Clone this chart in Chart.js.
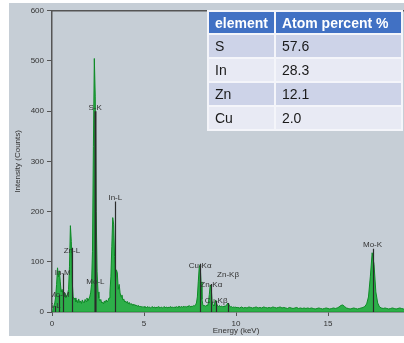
<!DOCTYPE html>
<html>
<head>
<meta charset="utf-8">
<script src="https://cdn.jsdelivr.net/npm/chart.js@4/dist/chart.umd.min.js"></script>
<style>
    html, body { margin: 0; padding: 0; background: #fff; overflow: hidden; width: 404px; height: 343px; }
    #frame { position: absolute; left: 9px; top: 3px; width: 395px; height: 333px; background: #c6ced6; overflow: hidden; }
    #spectrum { position: absolute; left: 0; top: 0; }
    #atoms { position: absolute; left: 207px; top: 10px; width: 196px; border-collapse: collapse; font-family: "Liberation Sans", Arial, sans-serif; font-size: 14px; color: #1a1a1a; }
    #atoms th, #atoms td { border: 2px solid #f4f5fa; padding: 0 6px; text-align: left; }
    #atoms th { background: #4171c4; color: #fff; font-weight: bold; height: 21px; }
    #atoms td { height: 22px; }
    #atoms tr.dark td { background: #cdd3e8; }
    #atoms tr.light td { background: #e8eaf4; }
</style>
</head>
<body>
<div id="frame"><canvas id="spectrum" width="425" height="333"></canvas></div>
<table id="atoms"></table>
<script>
(function() {

    // EDS spectrum, counts
    const energy = [
        0.00, 0.05, 0.10, 0.15, 0.20, 0.25, 0.30, 0.35, 0.40, 0.45, 0.50, 0.55, 0.60, 0.65, 0.70, 0.75, 0.80, 0.85, 0.90, 0.95,
        1.00, 1.05, 1.10, 1.15, 1.20, 1.25, 1.30, 1.35, 1.40, 1.45, 1.50, 1.55, 1.60, 1.65, 1.70, 1.75, 1.80, 1.85, 1.90, 1.95,
        2.00, 2.05, 2.10, 2.15, 2.20, 2.25, 2.30, 2.35, 2.40, 2.45, 2.50, 2.55, 2.60, 2.65, 2.70, 2.75, 2.80, 2.85, 2.90, 2.95,
        3.00, 3.05, 3.10, 3.15, 3.20, 3.25, 3.30, 3.35, 3.40, 3.45, 3.50, 3.55, 3.60, 3.65, 3.70, 3.75, 3.80, 3.85, 3.90, 3.95,
        4.00, 4.05, 4.10, 4.15, 4.20, 4.25, 4.30, 4.35, 4.40, 4.45, 4.50, 4.55, 4.60, 4.65, 4.70, 4.75, 4.80, 4.85, 4.90, 4.95,
        5.00, 5.05, 5.10, 5.15, 5.20, 5.25, 5.30, 5.35, 5.40, 5.45, 5.50, 5.55, 5.60, 5.65, 5.70, 5.75, 5.80, 5.85, 5.90, 5.95,
        6.00, 6.05, 6.10, 6.15, 6.20, 6.25, 6.30, 6.35, 6.40, 6.45, 6.50, 6.55, 6.60, 6.65, 6.70, 6.75, 6.80, 6.85, 6.90, 6.95,
        7.00, 7.05, 7.10, 7.15, 7.20, 7.25, 7.30, 7.35, 7.40, 7.45, 7.50, 7.55, 7.60, 7.65, 7.70, 7.75, 7.80, 7.85, 7.90, 7.95,
        8.00, 8.05, 8.10, 8.15, 8.20, 8.25, 8.30, 8.35, 8.40, 8.45, 8.50, 8.55, 8.60, 8.65, 8.70, 8.75, 8.80, 8.85, 8.90, 8.95,
        9.00, 9.05, 9.10, 9.15, 9.20, 9.25, 9.30, 9.35, 9.40, 9.45, 9.50, 9.55, 9.60, 9.65, 9.70, 9.75, 9.80, 9.85, 9.90, 9.95,
        10.0, 10.1, 10.2, 10.3, 10.4, 10.5, 10.6, 10.7, 10.8, 10.9, 11.0, 11.1, 11.2, 11.3, 11.4, 11.5, 11.6, 11.7, 11.8, 11.9,
        12.0, 12.1, 12.2, 12.3, 12.4, 12.5, 12.6, 12.7, 12.8, 12.9, 13.0, 13.1, 13.2, 13.3, 13.4, 13.5, 13.6, 13.7, 13.8, 13.9,
        14.0, 14.1, 14.2, 14.3, 14.4, 14.5, 14.6, 14.7, 14.8, 14.9, 15.0, 15.1, 15.2, 15.3, 15.4, 15.5, 15.6, 15.7, 15.8, 15.9,
        16.0, 16.1, 16.2, 16.3, 16.4, 16.5, 16.6, 16.7, 16.8, 16.9, 17.0, 17.1, 17.2, 17.3, 17.4, 17.5, 17.6, 17.7, 17.8, 17.9,
        18.0, 18.1, 18.2, 18.3, 18.4, 18.5, 18.6, 18.7, 18.8, 18.9, 19.0, 19.1, 19.2, 19.3, 19.4, 19.5, 19.6, 19.7, 19.8, 19.9,
        20.0
    ];
    const counts = [
        0, 5, 12, 18, 30, 55, 88, 70, 82, 60, 40, 45, 35, 30, 38, 28, 32, 36, 45, 90,
        172, 140, 60, 30, 25, 28, 20, 24, 18, 26, 19, 22, 17, 24, 20, 18, 25, 21, 28, 22,
        26, 30, 38, 55, 120, 330, 505, 430, 200, 80, 40, 28, 22, 25, 18, 20, 16, 22, 19, 24,
        20, 23, 28, 40, 70, 130, 188, 175, 110, 60, 84, 78, 45, 55, 38, 30, 34, 24, 26, 20,
        22, 18, 21, 16, 19, 15, 17, 14, 16, 13, 15, 12, 14, 11, 13, 10, 12, 10, 11, 9,
        11, 9, 10, 8, 11, 9, 10, 8, 9, 11, 8, 10, 9, 8, 10, 9, 11, 8, 9, 10,
        8, 9, 11, 8, 10, 9, 8, 10, 9, 11, 8, 10, 9, 10, 8, 11, 9, 10, 12, 9,
        10, 11, 9, 12, 10, 11, 9, 12, 10, 13, 11, 10, 12, 11, 13, 12, 14, 18, 30, 60,
        88, 94, 60, 25, 14, 12, 13, 11, 14, 12, 18, 35, 54, 50, 22, 14, 12, 18, 24, 16,
        12, 11, 13, 10, 12, 11, 10, 12, 11, 13, 14, 18, 16, 12, 10, 11, 9, 10, 9, 10,
        9, 9, 8, 10, 8, 9, 8, 10, 9, 8, 9, 10, 8, 9, 8, 10, 9, 8, 9, 8,
        10, 9, 8, 9, 10, 8, 9, 8, 7, 9, 8, 7, 8, 9, 7, 8, 7, 8, 7, 8,
        7, 8, 7, 6, 7, 8, 7, 6, 7, 8, 7, 6, 7, 8, 7, 8, 10, 13, 14, 11,
        8, 7, 6, 7, 8, 7, 6, 7, 8, 9, 11, 16, 30, 70, 118, 95, 40, 18, 10, 8,
        7, 8, 7, 6, 7, 8, 7, 6, 7, 8, 7, 6, 7, 8, 7, 6, 7, 8, 7, 6,
        7
    ];

    // peak markers: line position, top of line, label height (counts)
    const markerNames = ["S-L", "Mo-M", "In-M", "Zn-L", "S-K", "Mo-L", "In-L", "Cu-K\u03b1", "Zn-K\u03b1", "Cu-K\u03b2", "Zn-K\u03b2", "Mo-K"];
    const markerEnergy = [0.14, 0.40, 0.58, 1.08, 2.34, 2.36, 3.44, 8.05, 8.66, 8.92, 9.57, 17.42];
    const markerTop = [12, 34, 76, 128, 400, 58, 220, 96, 56, 22, 18, 126];
    const markerLabel = [12, 34, 78, 122, 406, 60, 228, 92, 54, 22, 74, 134];

    const yTicks = [0, 100, 200, 300, 400, 500, 600];
    const xTicks = [0, 5, 10, 15, 20];

    const tableHeader = ["element", "Atom percent %"];
    const elements = ["S", "In", "Zn", "Cu"];
    const atomPercent = ["57.6", "28.3", "12.1", "2.0"];

    const font = "Liberation Sans";

    buildTable();
    drawSpectrum();

    function buildTable() {
        let table = document.getElementById("atoms");
        let html = "<tr><th style='width:51px'>" + tableHeader[0] + "</th><th>" + tableHeader[1] + "</th></tr>";
        elements.forEach((el, i) => {
            html += "<tr class='" + (i % 2 === 0 ? "dark" : "light") + "'><td>" + el + "</td><td>" + atomPercent[i] + "</td></tr>";
        });
        table.innerHTML = html;
    }

    function drawSpectrum() {
        let markerPlugin = {
            id: "peakMarkers",
            afterDatasetsDraw(chart) {
                let ctx = chart.ctx;
                let area = chart.chartArea;
                let xs = chart.scales.x;
                let ys = chart.scales.y;

                ctx.save();
                ctx.beginPath();
                ctx.rect(area.left, area.top, area.right - area.left, area.bottom - area.top);
                ctx.clip();

                ctx.strokeStyle = "#2a2a2a";
                markerEnergy.forEach((e, i) => {
                    let px = Math.round(xs.getPixelForValue(e)) + 0.5;
                    ctx.lineWidth = markerNames[i] === "S-K" ? 2 : 1.2;
                    ctx.beginPath();
                    ctx.moveTo(px, ys.getPixelForValue(0));
                    ctx.lineTo(px, ys.getPixelForValue(markerTop[i]));
                    ctx.stroke();
                });

                ctx.fillStyle = "#333";
                ctx.font = "8px '" + font + "'";
                ctx.textAlign = "center";
                ctx.textBaseline = "middle";
                markerNames.forEach((name, i) => {
                    ctx.fillText(name, xs.getPixelForValue(markerEnergy[i]), ys.getPixelForValue(markerLabel[i]));
                });
                ctx.restore();

                // top and right frame lines
                ctx.save();
                ctx.strokeStyle = "#555";
                ctx.lineWidth = 1.5;
                ctx.beginPath();
                ctx.moveTo(area.left, area.top);
                ctx.lineTo(area.right, area.top);
                ctx.lineTo(area.right, area.bottom);
                ctx.stroke();
                ctx.restore();
            }
        };

        let ctx = document.getElementById("spectrum");
        let spectrumChart = new Chart(ctx, {
            type: "line",
            data: {
                datasets: [
                    {
                        label: "spectrum",
                        data: energy.map((e, i) => ({ x: e, y: counts[i] })),
                        fill: "origin",
                        backgroundColor: "rgba(28, 172, 58, 0.9)",
                        borderColor: "#0e8a26",
                        borderWidth: 1,
                        pointRadius: 0,
                        tension: 0
                    }
                ]
            },
            options: {
                responsive: false,
                animation: false,
                devicePixelRatio: 1,
                layout: { padding: { top: 7, right: 14, left: 0, bottom: 0 } },
                plugins: {
                    legend: { display: false },
                    tooltip: { enabled: false }
                },
                scales: {
                    x: {
                        type: "linear",
                        min: 0,
                        max: 20,
                        afterBuildTicks: scale => { scale.ticks = xTicks.map(v => ({ value: v })); },
                        afterFit: scale => { scale.height = 24; },
                        ticks: { color: "#333", font: { family: font, size: 8 }, padding: 3 },
                        grid: { drawOnChartArea: false, drawTicks: true, tickLength: 4, color: "#555" },
                        border: { display: true, color: "#555", width: 1.5 },
                        title: { display: true, text: "Energy (keV)", color: "#333", font: { family: font, size: 8 }, padding: { top: 0, bottom: 0 } }
                    },
                    y: {
                        min: 0,
                        max: 600,
                        afterBuildTicks: scale => { scale.ticks = yTicks.map(v => ({ value: v })); },
                        afterFit: scale => { scale.width = 43; },
                        ticks: { color: "#333", font: { family: font, size: 8 }, padding: 3 },
                        grid: { drawOnChartArea: false, drawTicks: true, tickLength: 5, color: "#555" },
                        border: { display: true, color: "#555", width: 1.5 },
                        title: { display: true, text: "Intensity (Counts)", color: "#333", font: { family: font, size: 8 }, padding: { top: 4, bottom: 4 } }
                    }
                }
            },
            plugins: [markerPlugin]
        });
    }

}());
</script>
</body>
</html>
